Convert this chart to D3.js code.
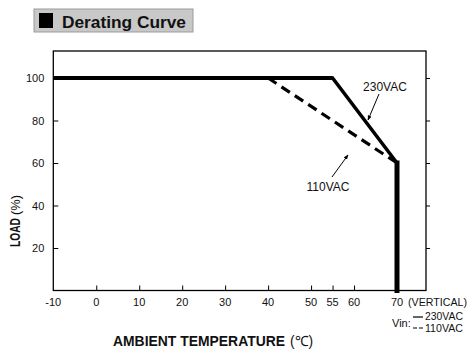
<!DOCTYPE html>
<html>
<head>
<meta charset="utf-8">
<script src="https://cdn.jsdelivr.net/npm/d3@7"></script>
<style>
  html, body { margin: 0; padding: 0; background: #fff; }
  svg { display: block; font-family: "Liberation Sans", Arial, sans-serif; }
</style>
</head>
<body>
<svg id="chart" width="472" height="356"></svg>
<script>
// ---- data ----
const title = "Derating Curve";
const xTickValues = [0, 10, 20, 30, 40, 50, 55, 60, 70];
const xTickLabels = [-10, 0, 10, 20, 30, 40, 50, 55, 60, 70];
const yTickValues = [20, 40, 60, 80, 100];
const temp230 = [-10, 55, 70, 70];
const load230 = [100, 100, 60, 0];
const temp110 = [40, 70];
const load110 = [100, 60];
const xLabel = "AMBIENT TEMPERATURE";
const xUnit = "(℃)";
const yLabel = "LOAD";
const yUnit = "(%)";

const svg = d3.select("#chart");
const x = d3.scaleLinear().domain([-10, 76.75]).range([53.3, 426]);
const y = d3.scaleLinear().domain([0, 112.7]).range([290.5, 51]);

// ---- title ----
svg.append("rect").attr("x", 34).attr("y", 9).attr("width", 159).attr("height", 23)
  .attr("fill", "#c8c8c8").attr("stroke", "#9a9a9a").attr("stroke-width", 1);
svg.append("rect").attr("x", 39).attr("y", 13).attr("width", 14).attr("height", 15).attr("fill", "#000");
svg.append("text").attr("x", 62).attr("y", 27.5).attr("font-size", 17).attr("font-weight", "bold")
  .attr("fill", "#111").attr("textLength", 124).attr("lengthAdjust", "spacingAndGlyphs").text(title);

// ---- frame ----
svg.append("rect").attr("x", x(-10)).attr("y", y(112.7))
  .attr("width", x(76.75) - x(-10)).attr("height", y(0) - y(112.7))
  .attr("fill", "none").attr("stroke", "#000").attr("stroke-width", 1.3);

// ---- axes ----
const xAxis = d3.axisBottom(x).tickValues(xTickValues).tickSize(-5).tickFormat("");
const gx = svg.append("g").attr("transform", `translate(0,${y(0)})`).call(xAxis);
gx.select(".domain").remove();
gx.selectAll("line").attr("stroke", "#000");

svg.append("g").selectAll("text").data(xTickLabels).join("text")
  .attr("x", d => x(d)).attr("y", 306).attr("text-anchor", "middle")
  .attr("font-size", 11).attr("fill", "#111").text(d => d);

svg.append("text").attr("x", 408).attr("y", 306).attr("font-size", 11).attr("fill", "#111")
  .attr("textLength", 59).attr("lengthAdjust", "spacingAndGlyphs").text("(VERTICAL)");

const yAxisL = d3.axisLeft(y).tickValues(yTickValues).tickSize(-5).tickPadding(9);
const gy = svg.append("g").attr("transform", `translate(${x(-10)},0)`).call(yAxisL);
gy.select(".domain").remove();
gy.selectAll("line").attr("stroke", "#000");
gy.selectAll("text").attr("font-size", 11).attr("font-family", "Liberation Sans, Arial, sans-serif").attr("fill", "#111");

const yAxisR = d3.axisRight(y).tickValues(yTickValues).tickSize(4).tickFormat("");
const gyr = svg.append("g").attr("transform", `translate(${x(76.75)},0)`).call(yAxisR);
gyr.select(".domain").remove();
gyr.selectAll("line").attr("stroke", "#000");

// ---- axis titles ----
svg.append("text").attr("x", 113).attr("y", 346).attr("font-size", 14).attr("font-weight", "bold")
  .attr("fill", "#111").attr("textLength", 172).attr("lengthAdjust", "spacingAndGlyphs").text(xLabel);
svg.append("text").attr("x", 290).attr("y", 346).attr("font-size", 14)
  .attr("fill", "#111").attr("textLength", 23).attr("lengthAdjust", "spacingAndGlyphs").text(xUnit);

svg.append("text").attr("transform", "translate(20,247) rotate(-90)").attr("font-size", 14)
  .attr("font-weight", "bold").attr("fill", "#111")
  .attr("textLength", 29).attr("lengthAdjust", "spacingAndGlyphs").text(yLabel);
svg.append("text").attr("transform", "translate(20,215) rotate(-90)").attr("font-size", 13)
  .attr("fill", "#111").attr("textLength", 20).attr("lengthAdjust", "spacingAndGlyphs").text(yUnit);

// ---- curves ----
const line = d3.line().x(d => x(d[0])).y(d => y(d[1]));
const pts230 = temp230.map((t, i) => [t, load230[i]]);
const pts110 = temp110.map((t, i) => [t, load110[i]]);

svg.append("path").attr("d", line(pts110)).attr("fill", "none").attr("stroke", "#000")
  .attr("stroke-width", 3.2).attr("stroke-dasharray", "10,6");
svg.append("path").attr("d", line(pts230.slice(0, 3))).attr("fill", "none").attr("stroke", "#000")
  .attr("stroke-width", 3.5).attr("stroke-linejoin", "miter");
svg.append("path").attr("d", line(pts230.slice(0, 2))).attr("fill", "none").attr("stroke", "#000")
  .attr("stroke-width", 4.2);
svg.append("path").attr("d", line(pts230.slice(2))).attr("fill", "none").attr("stroke", "#000")
  .attr("stroke-width", 5).attr("stroke-linecap", "square");

// ---- annotations ----
const defs = svg.append("defs");
defs.append("marker").attr("id", "arr").attr("viewBox", "0 0 10 10").attr("refX", 9).attr("refY", 5)
  .attr("markerWidth", 5).attr("markerHeight", 5).attr("orient", "auto")
  .append("path").attr("d", "M0,1 L10,5 L0,9 Z").attr("fill", "#000");

svg.append("text").attr("x", 385).attr("y", 91).attr("text-anchor", "middle").attr("font-size", 12)
  .attr("fill", "#111").text("230VAC");
svg.append("line").attr("x1", 379).attr("y1", 94).attr("x2", 368).attr("y2", 120)
  .attr("stroke", "#000").attr("stroke-width", 1).attr("marker-end", "url(#arr)");

svg.append("text").attr("x", 328).attr("y", 191).attr("text-anchor", "middle").attr("font-size", 12)
  .attr("fill", "#111").text("110VAC");
svg.append("line").attr("x1", 332).attr("y1", 177).attr("x2", 348).attr("y2", 155)
  .attr("stroke", "#000").attr("stroke-width", 1).attr("marker-end", "url(#arr)");

// ---- legend ----
svg.append("text").attr("x", 392).attr("y", 327).attr("font-size", 11).attr("fill", "#111").text("Vin:");
svg.append("line").attr("x1", 413).attr("x2", 423).attr("y1", 317).attr("y2", 317)
  .attr("stroke", "#000").attr("stroke-width", 1.2);
svg.append("text").attr("x", 425).attr("y", 320).attr("font-size", 11).attr("fill", "#111")
  .attr("textLength", 38).attr("lengthAdjust", "spacingAndGlyphs").text("230VAC");
svg.append("line").attr("x1", 413).attr("x2", 423).attr("y1", 328).attr("y2", 328)
  .attr("stroke", "#000").attr("stroke-width", 1.2).attr("stroke-dasharray", "4,2");
svg.append("text").attr("x", 425).attr("y", 332).attr("font-size", 11).attr("fill", "#111")
  .attr("textLength", 38).attr("lengthAdjust", "spacingAndGlyphs").text("110VAC");
</script>
</body>
</html>
